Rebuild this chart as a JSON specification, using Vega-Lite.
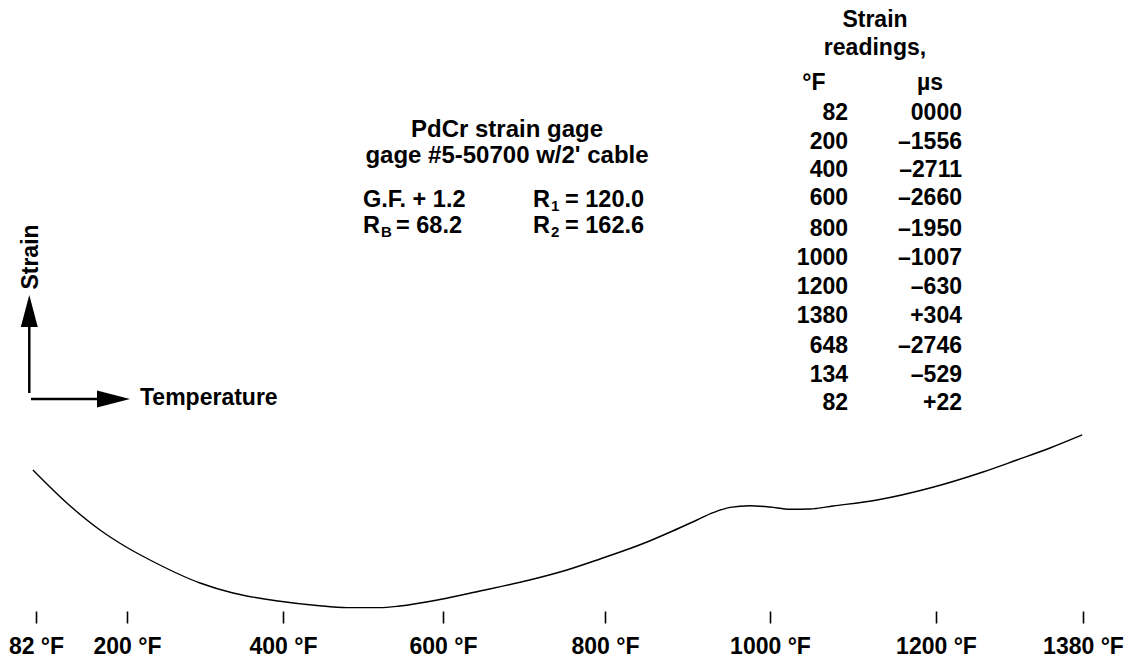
{
  "$schema": "https://vega.github.io/schema/vega-lite/v6.json",
  "width": 1132,
  "height": 666,
  "padding": 0,
  "autosize": {"type": "none"},
  "background": "white",
  "config": {
    "view": {"stroke": null},
    "text": {"font": "Liberation Sans", "fontWeight": "bold", "fontSize": 23, "color": "black"}
  },
  "datasets": {
    "curve": [
      {"t": 78, "s": 0}, {"t": 122, "s": -683}, {"t": 165, "s": -1242}, {"t": 199, "s": -1594},
      {"t": 229.5, "s": -1863}, {"t": 293.6, "s": -2339}, {"t": 335.9, "s": -2546}, {"t": 393.6, "s": -2712},
      {"t": 442.5, "s": -2805}, {"t": 480, "s": -2848}, {"t": 521, "s": -2848}, {"t": 546, "s": -2815},
      {"t": 596, "s": -2681}, {"t": 645.7, "s": -2505}, {"t": 707, "s": -2277}, {"t": 753, "s": -2070},
      {"t": 793.8, "s": -1842}, {"t": 851, "s": -1490}, {"t": 882, "s": -1263}, {"t": 911.5, "s": -1035},
      {"t": 931, "s": -884}, {"t": 951.5, "s": -773}, {"t": 975.8, "s": -739}, {"t": 1000, "s": -766},
      {"t": 1024, "s": -813}, {"t": 1048, "s": -807}, {"t": 1076, "s": -745}, {"t": 1129, "s": -621},
      {"t": 1192.8, "s": -373}, {"t": 1257.5, "s": -41}, {"t": 1299, "s": 207}, {"t": 1339.6, "s": 455},
      {"t": 1379, "s": 725}
    ],
    "table": [
      {"t": 1094, "s": 7245, "label": "82"}, {"t": 1231.8, "s": 7245, "label": "0000"},
      {"t": 1094, "s": 6644.7, "label": "200"}, {"t": 1231.8, "s": 6644.7, "label": "–1556"},
      {"t": 1094, "s": 6065.1, "label": "400"}, {"t": 1231.8, "s": 6065.1, "label": "–2711"},
      {"t": 1094, "s": 5485.5, "label": "600"}, {"t": 1231.8, "s": 5485.5, "label": "–2660"},
      {"t": 1094, "s": 4843.8, "label": "800"}, {"t": 1231.8, "s": 4843.8, "label": "–1950"},
      {"t": 1094, "s": 4243.5, "label": "1000"}, {"t": 1231.8, "s": 4243.5, "label": "–1007"},
      {"t": 1094, "s": 3643.2, "label": "1200"}, {"t": 1231.8, "s": 3643.2, "label": "–630"},
      {"t": 1094, "s": 3042.9, "label": "1380"}, {"t": 1231.8, "s": 3042.9, "label": "+304"},
      {"t": 1094, "s": 2421.9, "label": "648"}, {"t": 1231.8, "s": 2421.9, "label": "–2746"},
      {"t": 1094, "s": 1821.6, "label": "134"}, {"t": 1231.8, "s": 1821.6, "label": "–529"},
      {"t": 1094, "s": 1242, "label": "82"}, {"t": 1231.8, "s": 1242, "label": "+22"}
    ],
    "centered": [
      {"t": 1126.5, "s": 9170.1, "label": "Strain"},
      {"t": 1126.5, "s": 8590.5, "label": "readings,"},
      {"t": 1053, "s": 7866, "label": "°F"},
      {"t": 1192.8, "s": 7866, "label": "µs"}
    ],
    "notes_center": [
      {"t": 679, "s": 6893.1, "label": "PdCr strain gage"},
      {"t": 679, "s": 6354.9, "label": "gage #5-50700 w/2' cable"}
    ],
    "notes_left": [
      {"t": 500, "s": 5444.1, "label": "G.F. + 1.2"},
      {"t": 500, "s": 4905.9, "label": "R"},
      {"t": 541.25, "s": 4905.9, "label": "= 68.2"},
      {"t": 711.1, "s": 5444.1, "label": "R"},
      {"t": 750.6, "s": 5444.1, "label": "= 120.0"},
      {"t": 711.1, "s": 4905.9, "label": "R"},
      {"t": 750.6, "s": 4905.9, "label": "= 162.6"}
    ],
    "subs": [
      {"t": 522.5, "s": 4905.9, "label": "B"},
      {"t": 733.3, "s": 5444.1, "label": "1"},
      {"t": 733.3, "s": 4905.9, "label": "2"}
    ]
  },
  "encoding": {
    "x": {
      "field": "t",
      "type": "quantitative",
      "scale": {
        "domain": [82, 200, 400, 600, 800, 1000, 1200, 1380],
        "range": [36, 127, 283, 443, 605, 770, 936, 1083],
        "nice": false,
        "zero": false
      },
      "axis": {
        "title": null,
        "orient": "bottom",
        "offset": -55,
        "values": [82, 200, 400, 600, 800, 1000, 1200, 1380],
        "labelExpr": "datum.value + ' °F'",
        "domain": false,
        "grid": false,
        "ticks": true,
        "tickSize": 12,
        "tickWidth": 1.6,
        "tickColor": "black",
        "labelFont": "Liberation Sans",
        "labelFontSize": 23,
        "labelFontWeight": "bold",
        "labelColor": "black",
        "labelPadding": 12,
        "labelOverlap": false,
        "labelBound": false,
        "labelFlush": false,
        "labelAlign": "center",
        "labelBaseline": "top"
      }
    },
    "y": {
      "field": "s",
      "type": "quantitative",
      "scale": {"domain": [-4057.2, 9729], "nice": false, "zero": false},
      "axis": null
    }
  },
  "layer": [
    {
      "data": {"name": "curve"},
      "mark": {"type": "line", "color": "black", "strokeWidth": 1.4, "interpolate": "monotone"},
      "encoding": {}
    },
    {
      "data": {"name": "table"},
      "mark": {"type": "text", "align": "right", "baseline": "alphabetic"},
      "encoding": {"text": {"field": "label"}}
    },
    {
      "data": {"name": "centered"},
      "mark": {"type": "text", "align": "center", "baseline": "alphabetic"},
      "encoding": {"text": {"field": "label"}}
    },
    {
      "data": {"name": "notes_center"},
      "mark": {"type": "text", "align": "center", "baseline": "alphabetic", "fontSize": 24},
      "encoding": {"text": {"field": "label"}}
    },
    {
      "data": {"name": "notes_left"},
      "mark": {"type": "text", "align": "left", "baseline": "alphabetic", "fontSize": 23.5},
      "encoding": {"text": {"field": "label"}}
    },
    {
      "data": {"values": [{"t": 216.7, "s": 1345.5, "label": "Temperature"}]},
      "mark": {"type": "text", "align": "left", "baseline": "alphabetic"},
      "encoding": {"text": {"field": "label"}}
    },
    {
      "data": {"name": "subs"},
      "mark": {"type": "text", "align": "left", "baseline": "alphabetic", "fontSize": 15, "dy": 4},
      "encoding": {"text": {"field": "label"}}
    },
    {
      "data": {"values": [{"t": 75.5, "s": 4409.1, "label": "Strain"}]},
      "mark": {"type": "text", "angle": 270, "align": "center", "baseline": "middle"},
      "encoding": {"text": {"field": "label"}}
    },
    {
      "data": {"values": [
        {"t": 73.3, "s": 1593.9, "t2": 73.3, "s2": 3000},
        {"t": 75.5, "s": 1469.7, "t2": 175, "s2": 1469.7}
      ]},
      "mark": {"type": "rule", "color": "black", "strokeWidth": 2.5},
      "encoding": {"x2": {"field": "t2"}, "y2": {"field": "s2"}}
    },
    {
      "data": {"values": [{"t": 73.3, "s": 3291.3}]},
      "mark": {"type": "point", "shape": "M0,-1L0.53,1L-0.53,1Z", "size": 1024, "filled": true, "color": "black", "opacity": 1, "strokeWidth": 0}
    },
    {
      "data": {"values": [{"t": 182.5, "s": 1469.7}]},
      "mark": {"type": "point", "shape": "M1,0L-1,0.52L-1,-0.52Z", "size": 1089, "filled": true, "color": "black", "opacity": 1, "strokeWidth": 0}
    }
  ]
}
